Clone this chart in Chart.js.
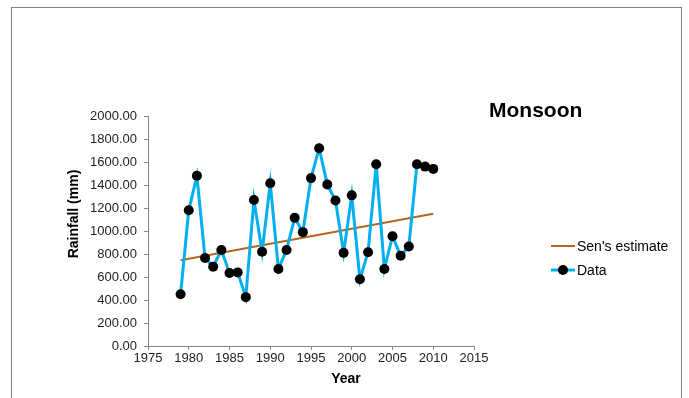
<!DOCTYPE html>
<html>
<head>
<meta charset="utf-8">
<script src="https://cdn.jsdelivr.net/npm/chart.js@4/dist/chart.umd.min.js"></script>
<style>
  html, body { margin: 0; padding: 0; background: #fff; }
  #wrap { position: relative; width: 689px; height: 398px; overflow: hidden; font-family: "Liberation Sans", Arial, sans-serif; }
  #frame { position: absolute; left: 11px; top: 7px; width: 669px; height: 420px;
           border-left: 1px solid #808080; border-top: 1px solid #808080; border-right: 1px solid #808080; }
  canvas { position: absolute; left: 0; top: 0; }
  #title { position: absolute; left: 489px; top: 97px; font-size: 21px; font-weight: bold; color: #000; line-height: 26px; }
  .axtitle { position: absolute; font-size: 14px; font-weight: bold; color: #000; line-height: 18px; white-space: nowrap; text-align: center; width: 120px; height: 18px; }
  #xtitle { left: 286px; top: 369px; }
  #ytitle { left: 13px; top: 205px; transform: rotate(-90deg); transform-origin: 60px 9px; }
  .leg { position: absolute; left: 551px; height: 18px; font-size: 14px; color: #000; line-height: 18px; white-space: nowrap; }
  .leg .sample { position: absolute; left: 0; top: 0; width: 24px; height: 18px; }
  .leg .txt { position: absolute; left: 26px; top: 0; }
</style>
</head>
<body>
<div id="wrap">
  <div id="frame"></div>
  <canvas id="c" width="689" height="398"></canvas>
  <div id="title">Monsoon</div>
  <div id="xtitle" class="axtitle">Year</div>
  <div id="ytitle" class="axtitle">Rainfall (mm)</div>
  <div class="leg" style="top:237px">
    <svg class="sample" width="24" height="18"><line x1="0" y1="9" x2="24" y2="9" stroke="#B5651D" stroke-width="2"/></svg>
    <span class="txt">Sen's estimate</span>
  </div>
  <div class="leg" style="top:261px">
    <svg class="sample" width="24" height="18"><line x1="0" y1="9" x2="24" y2="9" stroke="#00B0F0" stroke-width="3"/><circle cx="12" cy="9" r="5" fill="#000"/></svg>
    <span class="txt">Data</span>
  </div>
</div>
<script>
// Monsoon rainfall by year (mm)
const years = [1979, 1980, 1981, 1982, 1983, 1984, 1985, 1986, 1987, 1988,
               1989, 1990, 1991, 1992, 1993, 1994, 1995, 1996, 1997, 1998,
               1999, 2000, 2001, 2002, 2003, 2004, 2005, 2006, 2007, 2008,
               2009, 2010];
const rainfall = [450, 1180, 1480, 765, 690, 835, 635, 640, 425, 1270,
                  820, 1415, 670, 835, 1115, 990, 1460, 1720, 1405, 1265,
                  810, 1310, 580, 815, 1580, 670, 955, 785, 865, 1580,
                  1560, 1540];

// Sen's slope trend line, start and end of the record
const senYears = [1979, 2010];
const senValues = [745, 1150];

const xTicks = [1975, 1980, 1985, 1990, 1995, 2000, 2005, 2010, 2015];
const yTicks = [0, 200, 400, 600, 800, 1000, 1200, 1400, 1600, 1800, 2000];

const axisGray = '#868686';
const tickFont = { family: '"Liberation Sans", Arial, sans-serif', size: 13 };

new Chart(document.getElementById('c'), {
  type: 'scatter',
  data: {
    datasets: [
      {
        label: 'Data',
        data: years.map((y, i) => ({ x: y, y: rainfall[i] })),
        showLine: true,
        borderColor: '#00B0F0',
        borderWidth: 3,
        borderJoinStyle: 'miter',
        backgroundColor: '#000',
        pointBackgroundColor: '#000',
        pointBorderColor: '#000',
        pointBorderWidth: 0,
        pointRadius: 5,
        tension: 0
      },
      {
        label: "Sen's estimate",
        data: senYears.map((y, i) => ({ x: y, y: senValues[i] })),
        showLine: true,
        borderColor: '#B5651D',
        borderWidth: 2,
        pointRadius: 0,
        tension: 0
      }
    ]
  },
  options: {
    responsive: false,
    animation: false,
    devicePixelRatio: 1,
    layout: { padding: { left: 60, right: 215, top: 116, bottom: 8 } },
    plugins: { legend: { display: false }, title: { display: false }, tooltip: { enabled: false } },
    scales: {
      x: {
        type: 'linear',
        min: 1975, max: 2015,
        afterBuildTicks: s => { s.ticks = xTicks.map(v => ({ value: v })); },
        afterFit: s => { s.height = 44; },
        ticks: { font: tickFont, color: '#222', padding: 1, maxRotation: 0, autoSkip: false,
                 callback: v => String(v) },
        grid: { drawOnChartArea: false, drawTicks: true, tickLength: 4, color: axisGray, tickColor: axisGray },
        border: { color: axisGray, width: 1 }
      },
      y: {
        min: 0, max: 2000,
        afterBuildTicks: s => { s.ticks = yTicks.map(v => ({ value: v })); },
        afterFit: s => { s.width = 88; },
        ticks: { font: tickFont, color: '#222', padding: 7, autoSkip: false,
                 callback: v => Number(v).toFixed(2) },
        grid: { drawOnChartArea: false, drawTicks: true, tickLength: 4, color: axisGray, tickColor: axisGray },
        border: { color: axisGray, width: 1 }
      }
    }
  }
});
</script>
</body>
</html>
